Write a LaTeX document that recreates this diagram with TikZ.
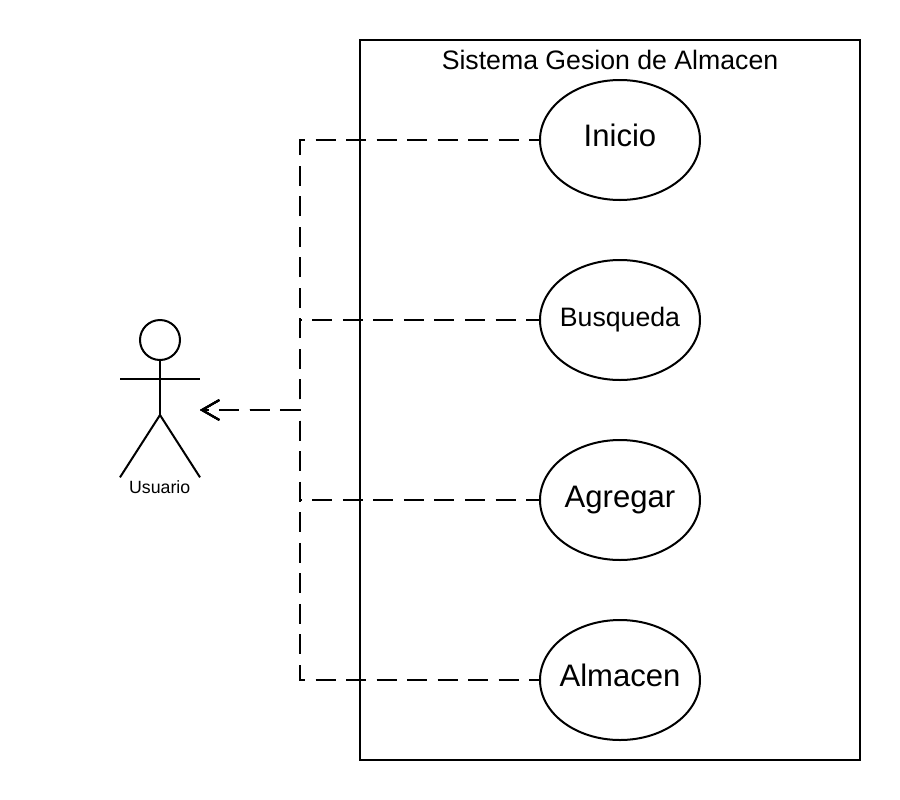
\documentclass[tikz,border=0pt]{standalone}
\usepackage{fontspec}
\setmainfont{Liberation Sans}
\usetikzlibrary{arrows.meta}
\usetikzlibrary{shapes.geometric}
\usetikzlibrary{calc,positioning}

\begin{document}
\begin{tikzpicture}[x=1pt, y=-1pt, >={Straight Barb[length=13pt,width=15pt]}, line width=1.5pt,
    usecase/.style={draw, ellipse, minimum width=120pt, minimum height=90pt, inner sep=0pt, text=black},
    flow/.style={dash pattern=on 15pt off 7.9pt, dash phase=10.8pt}]

    \useasboundingbox (0,0) rectangle (675,600);

    % system boundary
    \node[draw, minimum width=375pt, minimum height=540pt, inner sep=0pt] (sistema) at (457.5,300) {};
    \node[font=\fontsize{20}{24}\selectfont] (titulo) at (457.5,45) {Sistema Gesion de Almacen};

    % use cases
    \node[usecase, font=\fontsize{23.3}{27}\selectfont] (inicio) at (465,105) {\makebox[0pt]{\raisebox{7.5pt}{Inicio}}};
    \node[usecase, font=\fontsize{20}{24}\selectfont] (busqueda) at (465,240) {\makebox[0pt]{\raisebox{2pt}{Busqueda}}};
    \node[usecase, font=\fontsize{23.3}{27}\selectfont] (agregar) at (465,375) {\makebox[0pt]{\raisebox{5.5pt}{Agregar}}};
    \node[usecase, font=\fontsize{23.3}{27}\selectfont] (almacen) at (465,510) {\makebox[0pt]{\raisebox{7.5pt}{Almacen}}};

    % actor
    \node[draw, circle, minimum size=30pt, inner sep=0pt] (cabeza) at (120,255) {};
    \coordinate (cadera) at (120,311.25);
    \coordinate (hombroi) at (90,284.5);
    \coordinate (hombrod) at (150,284.5);
    \coordinate (pied) at (150,358);
    \coordinate (piei) at (90,358);
    \draw (cabeza.south) -- (cadera);
    \draw (hombroi) -- (hombrod);
    \draw (piei) -- (cadera) -- (pied);
    \node[font=\fontsize{13.3}{15}\selectfont] (usuario) at (119.75,365.5) {Usuario};

    % dependencies
    \coordinate (union) at (225,307.5);
    \coordinate (punta) at (150,307.5);
    \draw[flow, <-] (punta) -- (union) |- (inicio.west);
    \draw[flow, <-] (punta) -- (union) |- (busqueda.west);
    \draw[flow, <-] (punta) -- (union) |- (agregar.west);
    \draw[flow, <-] (punta) -- (union) |- (almacen.west);

\end{tikzpicture}
\end{document}
